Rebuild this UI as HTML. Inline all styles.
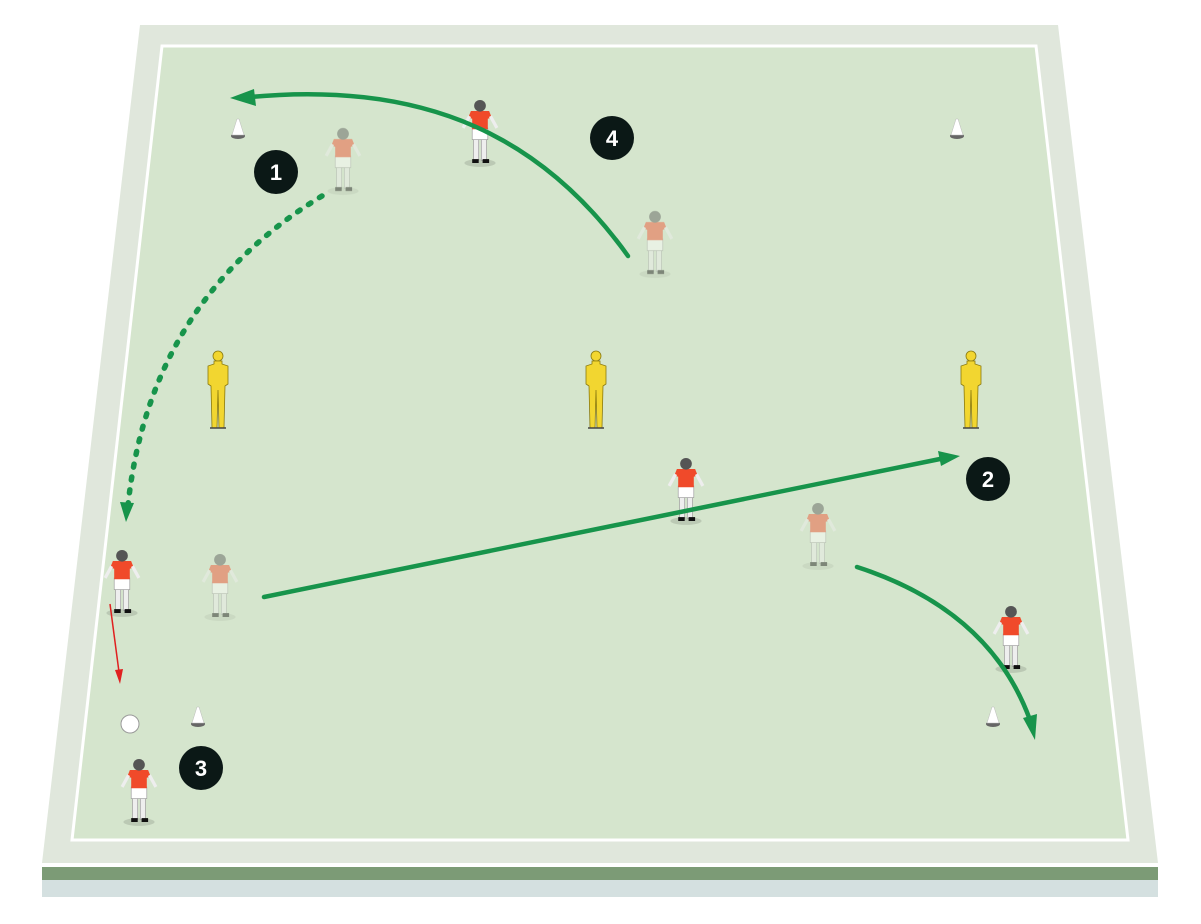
<!DOCTYPE html>
<html><head><meta charset="utf-8"><style>html,body{margin:0;padding:0;background:#fff;}svg{display:block}</style></head>
<body>
<svg width="1201" height="924" viewBox="0 0 1201 924" xmlns="http://www.w3.org/2000/svg">
<defs>
<g id="pl0">
 <ellipse cx="0" cy="30" rx="12" ry="3" fill="#000" opacity="0.12"/>
 <rect x="-5" y="10" width="4" height="18" fill="#eee" stroke="#999" stroke-width="0.5"/>
 <rect x="1" y="10" width="4" height="18" fill="#eee" stroke="#999" stroke-width="0.5"/>
 <rect x="-6" y="3" width="12" height="9" fill="#fff" stroke="#999" stroke-width="0.5"/>
 <path d="M-7,-10 L7,-10 L9,-5 L6,-4 L6,4 L-6,4 L-6,-4 L-9,-5 Z" fill="#f04a2a"/>
 <line x1="-8" y1="-6" x2="-13" y2="3" stroke="#eee" stroke-width="2.5"/>
 <line x1="8" y1="-6" x2="13" y2="3" stroke="#eee" stroke-width="2.5"/>
 <circle cx="0" cy="-14" r="4.5" fill="#555"/>
 <rect x="-6" y="27" width="5" height="3" fill="#111"/><rect x="2" y="27" width="5" height="3" fill="#111"/>
</g>
<g id="pl"><use href="#pl0" transform="scale(1.3)"/></g>
<g id="cone"><ellipse cx="0" cy="8" rx="7" ry="3" fill="#666"/><path d="M-6,7 L-1,-9 L1,-9 L6,7 Z" fill="#fff" stroke="#bbb" stroke-width="0.5"/></g>
<g id="dummy">
 <circle cx="0" cy="-34" r="5" fill="#f2d630" stroke="#8a7a10" stroke-width="0.8"/>
 <path d="M-4,-29 L4,-29 L4,-26 L10,-24 L10,-6 L7,-4 L6,38 L1,38 L0,0 L-1,38 L-6,38 L-7,-4 L-10,-6 L-10,-24 L-4,-26 Z" fill="#f2d630" stroke="#8a7a10" stroke-width="0.8"/>
 <line x1="-8" y1="38" x2="8" y2="38" stroke="#444" stroke-width="1.5"/>
</g>
<g id="num"><circle r="22" fill="#0b1816"/></g>
</defs>
<polygon points="140,25 1058,25 1158,863 42,863" fill="#e0e7dc"/>
<polygon points="162,46 1036,46 1128,840 72,840" fill="#d5e5cd" stroke="#fff" stroke-width="3"/>
<rect x="42" y="867" width="1116" height="13" fill="#7c9b76"/>
<rect x="42" y="880" width="1116" height="17" fill="#d4e0e0"/>

<use href="#cone" x="238" y="128"/><use href="#cone" x="957" y="128"/>
<use href="#cone" x="198" y="716"/><use href="#cone" x="993" y="716"/>
<circle cx="130" cy="724" r="9" fill="#fff" stroke="#999"/>

<use href="#dummy" x="218" y="390"/><use href="#dummy" x="596" y="390"/><use href="#dummy" x="971" y="390"/>

<g opacity="0.45">
<use href="#pl" x="343" y="152"/><use href="#pl" x="655" y="235"/><use href="#pl" x="220" y="578"/><use href="#pl" x="818" y="527"/>
</g>
<use href="#pl" x="480" y="124"/><use href="#pl" x="686" y="482"/><use href="#pl" x="122" y="574"/><use href="#pl" x="1011" y="630"/><use href="#pl" x="139" y="783"/>

<g fill="none" stroke="#17944b" stroke-width="4.5" stroke-linecap="round">
<path d="M628,256 C545,140 430,80 250,97"/>
<path d="M264,597 L940,459"/>
<path d="M857,567 Q990,610 1030,720"/>
<path d="M322,196 Q150,300 128,505" stroke-dasharray="3,10" stroke-width="5.5"/>
</g>
<g fill="#17944b">
<polygon points="230,98 254,89 256,106"/>
<polygon points="960,456 938,451 941,466"/>
<polygon points="1035,740 1023,718 1037,714"/>
<polygon points="126,522 120,502 134,503"/>
</g>
<line x1="110" y1="604" x2="119" y2="672" stroke="#e02020" stroke-width="1.5"/>
<polygon points="120,684 115,670 123,669" fill="#e02020"/>

<g font-family="Liberation Sans, sans-serif" font-weight="bold" font-size="22" fill="#fff" text-anchor="middle">
<use href="#num" x="276" y="172"/><text x="276" y="180">1</text>
<use href="#num" x="612" y="138"/><text x="612" y="146">4</text>
<use href="#num" x="988" y="479"/><text x="988" y="487">2</text>
<use href="#num" x="201" y="768"/><text x="201" y="776">3</text>
</g>
</svg>
</body></html>
